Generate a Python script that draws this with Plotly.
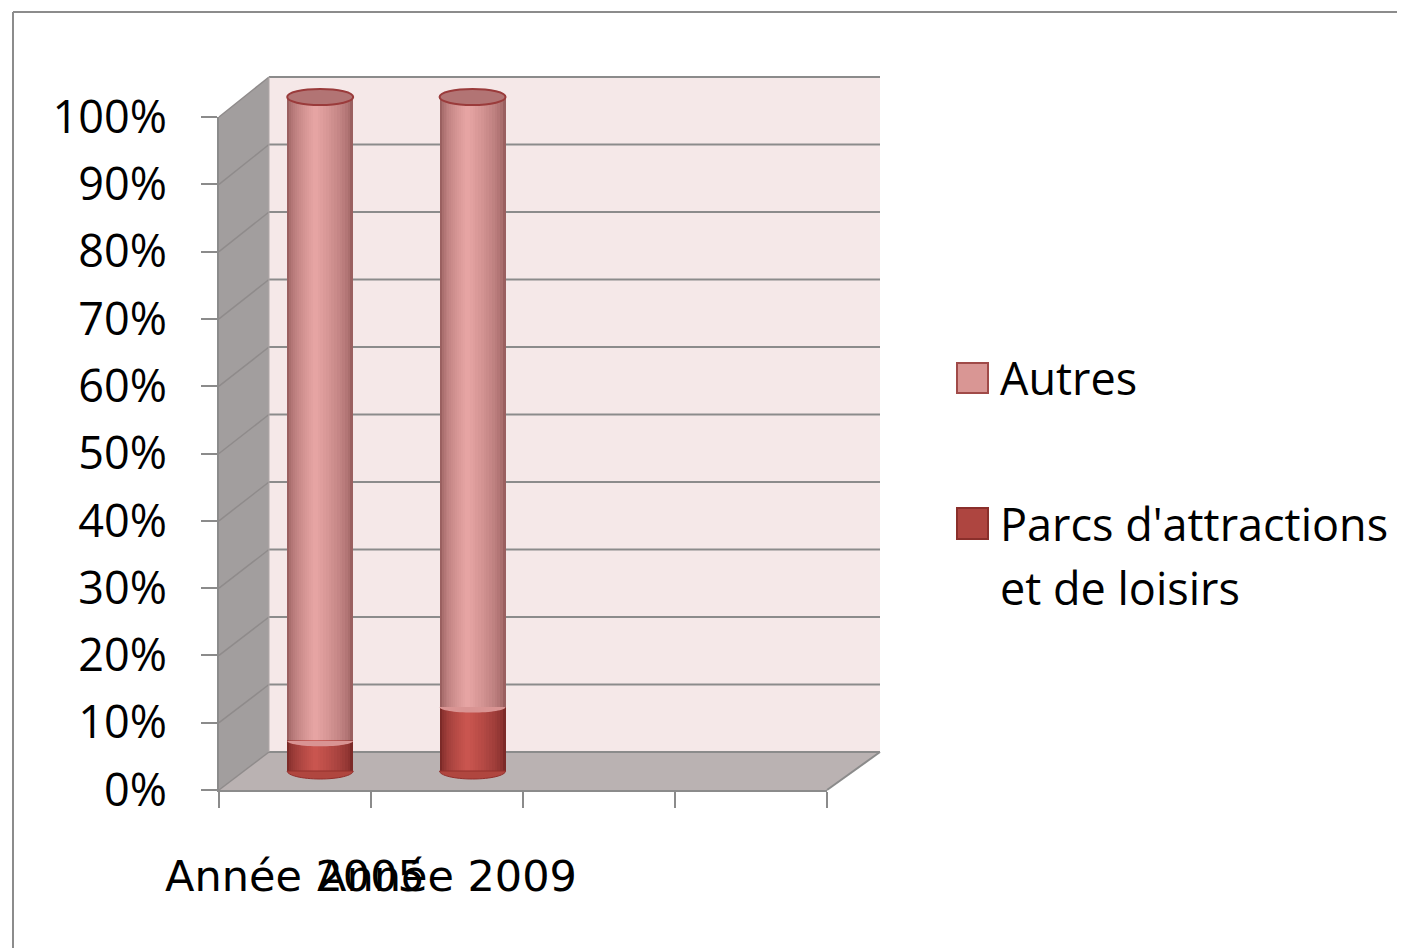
import plotly.graph_objects as go

# ---------------- data ----------------
categories = ["Année 2005", "Année 2009"]
parcs = [4.5, 9.5]          # Parcs d'attractions et de loisirs (%)
autres = [95.5, 90.5]       # Autres (%)
y_tick_vals = [0, 10, 20, 30, 40, 50, 60, 70, 80, 90, 100]
y_tick_labels = ["0%", "10%", "20%", "30%", "40%", "50%", "60%", "70%", "80%", "90%", "100%"]
legend_autres = "Autres"
legend_parcs = ["Parcs d'attractions", "et de loisirs"]
n_slots = 4

# ---------------- geometry / style ----------------
PAGE_OFF = 8                     # page body margin
FW, FH = 1405 - PAGE_OFF, 948 - PAGE_OFF
def px(x): return (x - PAGE_OFF) / FW
def py(y): return 1 - (y - PAGE_OFF) / FH

FRONT_L, FRONT_R, FRONT_Y0, FRONT_Y100 = 219, 827, 790, 117
BACK_L, BACK_R, BACK_Y0, BACK_Y100 = 269, 880, 752, 77
MID_L, MID_R = (FRONT_L + BACK_L) / 2, (FRONT_R + BACK_R) / 2
MID_Y0, MID_Y100 = (FRONT_Y0 + BACK_Y0) / 2, (FRONT_Y100 + BACK_Y100) / 2
PPU = (MID_Y0 - MID_Y100) / 100.0
YLO, YHI = -5, 105
slot_px = (MID_R - MID_L) / n_slots
BW = 66 / slot_px
E = 8 / PPU

GRID = "#8b8b8b"

def hex2rgb(h):
    h = h.lstrip("#")
    return tuple(int(h[i:i + 2], 16) for i in (0, 2, 4))

def lerp(c1, c2, t):
    a, b = hex2rgb(c1), hex2rgb(c2)
    return "rgb(%d,%d,%d)" % tuple(round(a[i] + (b[i] - a[i]) * t) for i in range(3))

fig = go.Figure()
xi = list(range(len(categories)))

N = 14
series = [
    (parcs, [0] * len(parcs), "#7c2a28", "#c9554f"),
    (autres, parcs, "#9a6060", "#e6a4a3"),
]
for vals, base, edge, hi in series:
    for k in range(N):
        w = BW * (1 - k / N)
        off = -BW / 2 + (BW - w) * 0.42
        t = (k / (N - 1)) ** 0.6
        fig.add_trace(go.Bar(
            x=xi, y=vals, base=base, width=[w] * len(xi), offset=[off] * len(xi),
            marker=dict(color=lerp(edge, hi, t), line=dict(width=0)),
            showlegend=False, hoverinfo="skip", xaxis="x", yaxis="y"))

# dummy trace for the front-plane axes
fig.add_trace(go.Scatter(x=[None], y=[None], xaxis="x2", yaxis="y2",
                         showlegend=False, hoverinfo="skip"))

shapes = []
# chart frame
shapes.append(dict(type="line", xref="paper", yref="paper", x0=px(13), y0=py(12), x1=1.0, y1=py(12),
                   line=dict(color="#8c8c8c", width=2)))
shapes.append(dict(type="line", xref="paper", yref="paper", x0=px(13), y0=py(12), x1=px(13), y1=0,
                   line=dict(color="#8c8c8c", width=2)))
# back wall
shapes.append(dict(type="rect", xref="paper", yref="paper", layer="below",
                   x0=px(BACK_L), x1=px(BACK_R), y0=py(BACK_Y0), y1=py(BACK_Y100),
                   fillcolor="#f5e8e8", line=dict(width=0)))
def poly(pts):
    return "M " + " L ".join("%f,%f" % (px(a), py(b)) for a, b in pts) + " Z"
# left wall
shapes.append(dict(type="path", xref="paper", yref="paper", layer="below",
                   path=poly([(FRONT_L, FRONT_Y100), (BACK_L, BACK_Y100), (BACK_L, BACK_Y0), (FRONT_L, FRONT_Y0)]),
                   fillcolor="#a29e9e", line=dict(width=0)))
# floor
shapes.append(dict(type="path", xref="paper", yref="paper", layer="below",
                   path=poly([(FRONT_L, FRONT_Y0), (BACK_L, BACK_Y0), (BACK_R, BACK_Y0), (FRONT_R, FRONT_Y0)]),
                   fillcolor="#bab2b2", line=dict(width=0)))
# gridlines
for v in y_tick_vals:
    yb = BACK_Y0 - (BACK_Y0 - BACK_Y100) * v / 100
    yf = FRONT_Y0 - (FRONT_Y0 - FRONT_Y100) * v / 100
    shapes.append(dict(type="line", xref="paper", yref="paper", layer="below",
                       x0=px(BACK_L), x1=px(BACK_R), y0=py(yb), y1=py(yb),
                       line=dict(color=GRID, width=2)))
    shapes.append(dict(type="line", xref="paper", yref="paper", layer="below",
                       x0=px(FRONT_L), x1=px(BACK_L), y0=py(yf), y1=py(yb),
                       line=dict(color="#8f8b8b", width=1.5)))
shapes.append(dict(type="line", xref="paper", yref="paper", layer="below",
                   x0=px(FRONT_R), x1=px(BACK_R), y0=py(FRONT_Y0), y1=py(BACK_Y0),
                   line=dict(color=GRID, width=2)))
shapes.append(dict(type="line", xref="paper", yref="paper", layer="below",
                   x0=px(BACK_L), x1=px(BACK_L), y0=py(BACK_Y0), y1=py(BACK_Y100),
                   line=dict(color="#b0a8a8", width=1)))

def lower_half(cx, cy, a, b):
    k = 0.5523
    return ("M %f,%f C %f,%f %f,%f %f,%f C %f,%f %f,%f %f,%f Z" %
            (cx - a, cy, cx - a, cy - k * b, cx - k * a, cy - b, cx, cy - b,
             cx + k * a, cy - b, cx + a, cy - k * b, cx + a, cy))

for i in xi:
    cx = i
    # bottom rounded edge
    shapes.append(dict(type="path", xref="x", yref="y", path=lower_half(cx, 0, BW / 2, E),
                       fillcolor="#b0463f", line=dict(color="#93302d", width=1)))
    # boundary between segments
    shapes.append(dict(type="path", xref="x", yref="y", path=lower_half(cx, parcs[i], BW / 2, E * 0.7),
                       fillcolor="#d99493", line=dict(width=0)))
    # top cap
    top = parcs[i] + autres[i]
    shapes.append(dict(type="circle", xref="x", yref="y",
                       x0=i - BW / 2, x1=i + BW / 2, y0=top - E, y1=top + E,
                       fillcolor="#b27474", line=dict(color="#9a3b3b", width=2)))

# legend (manual, larger symbols)
shapes.append(dict(type="rect", xref="paper", yref="paper", x0=px(957), x1=px(988), y0=py(393), y1=py(363),
                   fillcolor="#d99694", line=dict(color="#a04a48", width=2)))
shapes.append(dict(type="rect", xref="paper", yref="paper", x0=px(957), x1=px(988), y0=py(539), y1=py(508),
                   fillcolor="#ae4540", line=dict(color="#8a2f2b", width=2)))

annotations = []
for i, c in enumerate(categories):
    annotations.append(dict(text=c, xref="x2", yref="paper", x=i, y=py(876), xanchor="center",
                            yanchor="middle", showarrow=False,
                            font=dict(family="DejaVu Sans", size=43, color="black")))
LEG_FONT = dict(family="Open Sans", size=45, color="black")
annotations.append(dict(text=legend_autres, xref="paper", yref="paper", x=px(998), y=py(378),
                        xanchor="left", yanchor="middle", showarrow=False, font=LEG_FONT))
annotations.append(dict(text=legend_parcs[0], xref="paper", yref="paper", x=px(998), y=py(523),
                        xanchor="left", yanchor="middle", showarrow=False, font=LEG_FONT))
annotations.append(dict(text=legend_parcs[1], xref="paper", yref="paper", x=px(998), y=py(587),
                        xanchor="left", yanchor="middle", showarrow=False, font=LEG_FONT))

fig.update_layout(
    width=FW, height=FH, margin=dict(l=0, r=0, t=0, b=0, pad=0, autoexpand=False),
    paper_bgcolor="white", plot_bgcolor="rgba(0,0,0,0)",
    barmode="overlay", bargap=0, showlegend=False,
    xaxis=dict(domain=[px(MID_L), px(MID_R)], range=[-0.5, n_slots - 0.5], visible=False,
               fixedrange=True, automargin=False),
    yaxis=dict(domain=[py(MID_Y0 + (0 - YLO) * PPU), py(MID_Y100 - (YHI - 100) * PPU)],
               range=[YLO, YHI], visible=False, fixedrange=True, automargin=False),
    xaxis2=dict(domain=[px(FRONT_L), px(FRONT_R)], range=[-0.5, n_slots - 0.5], anchor="y2",
                tickvals=[s - 0.5 for s in range(n_slots + 1)], ticktext=[""] * (n_slots + 1),
                ticks="outside", ticklen=16, tickwidth=2, tickcolor=GRID, automargin=False,
                showline=True, linecolor=GRID, linewidth=2, showgrid=False, zeroline=False),
    yaxis2=dict(domain=[py(FRONT_Y0), py(FRONT_Y100)], range=[0, 100], anchor="x2",
                tickvals=y_tick_vals, ticktext=y_tick_labels, automargin=False,
                ticks="outside", ticklen=16, tickwidth=2, tickcolor=GRID,
                showline=True, linecolor=GRID, linewidth=2, showgrid=False, zeroline=False,
                tickfont=dict(family="Open Sans", size=45, color="black"), ticklabelstandoff=25),
    shapes=shapes, annotations=annotations,
)

fig.write_html("out.html")
